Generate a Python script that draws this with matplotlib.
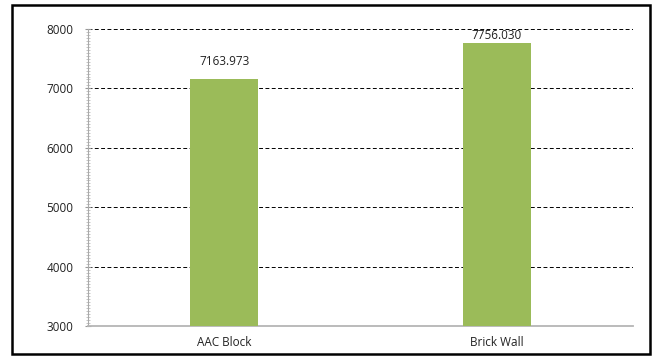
import matplotlib.pyplot as plt
from matplotlib.patches import Rectangle
from matplotlib.ticker import MultipleLocator

categories = ['AAC Block', 'Brick Wall']
values = [7163.973, 7756.030]
value_labels = ['7163.973', '7756.030']

plt.rcParams['font.family'] = ['Open Sans', 'DejaVu Sans']

fig = plt.figure(figsize=(6.57, 3.58), dpi=100)
ax = fig.add_axes([88 / 657, 1 - 326 / 358, 545 / 657, 297 / 358])

x = range(len(categories))
bars = ax.bar(x, values, width=0.25, color='#9BBB59', zorder=3)

# label pads in points above each bar
label_pad = [8, 1]
for rect, txt, pad in zip(bars, value_labels, label_pad):
    ax.annotate(txt, (rect.get_x() + rect.get_width() / 2, rect.get_height()),
                xytext=(0, pad), textcoords='offset points',
                ha='center', va='bottom', fontsize=8.5, color='#222222')

ax.set_xlim(-0.5, 1.5)
ax.set_ylim(3000, 8000)
ax.set_xticks(list(x))
ax.set_xticklabels(categories, fontsize=8.5, color='#222222')
ax.yaxis.set_major_locator(MultipleLocator(1000))
ax.yaxis.set_minor_locator(MultipleLocator(50))
ax.tick_params(axis='y', which='major', direction='inout', length=5, color='#999999',
               labelsize=8.5, labelcolor='#222222', pad=8)
ax.tick_params(axis='y', which='minor', direction='inout', length=3, color='#bbbbbb', width=0.6)
ax.tick_params(axis='x', length=0, pad=7)

ax.grid(axis='y', linestyle=(0, (4, 2.5)), color='black', linewidth=0.7, zorder=0)
for s in ['top', 'right']:
    ax.spines[s].set_visible(False)
ax.spines['left'].set_color('#aaaaaa')
ax.spines['bottom'].set_color('#b5b5b5')
ax.spines['bottom'].set_linewidth(1.3)

# black frame around the whole chart
fig.patches.append(Rectangle((12 / 657, 4 / 358), 638 / 657, 349 / 358,
                             transform=fig.transFigure, fill=False,
                             edgecolor='black', linewidth=1.8))

fig.savefig('out.png', dpi=100)
